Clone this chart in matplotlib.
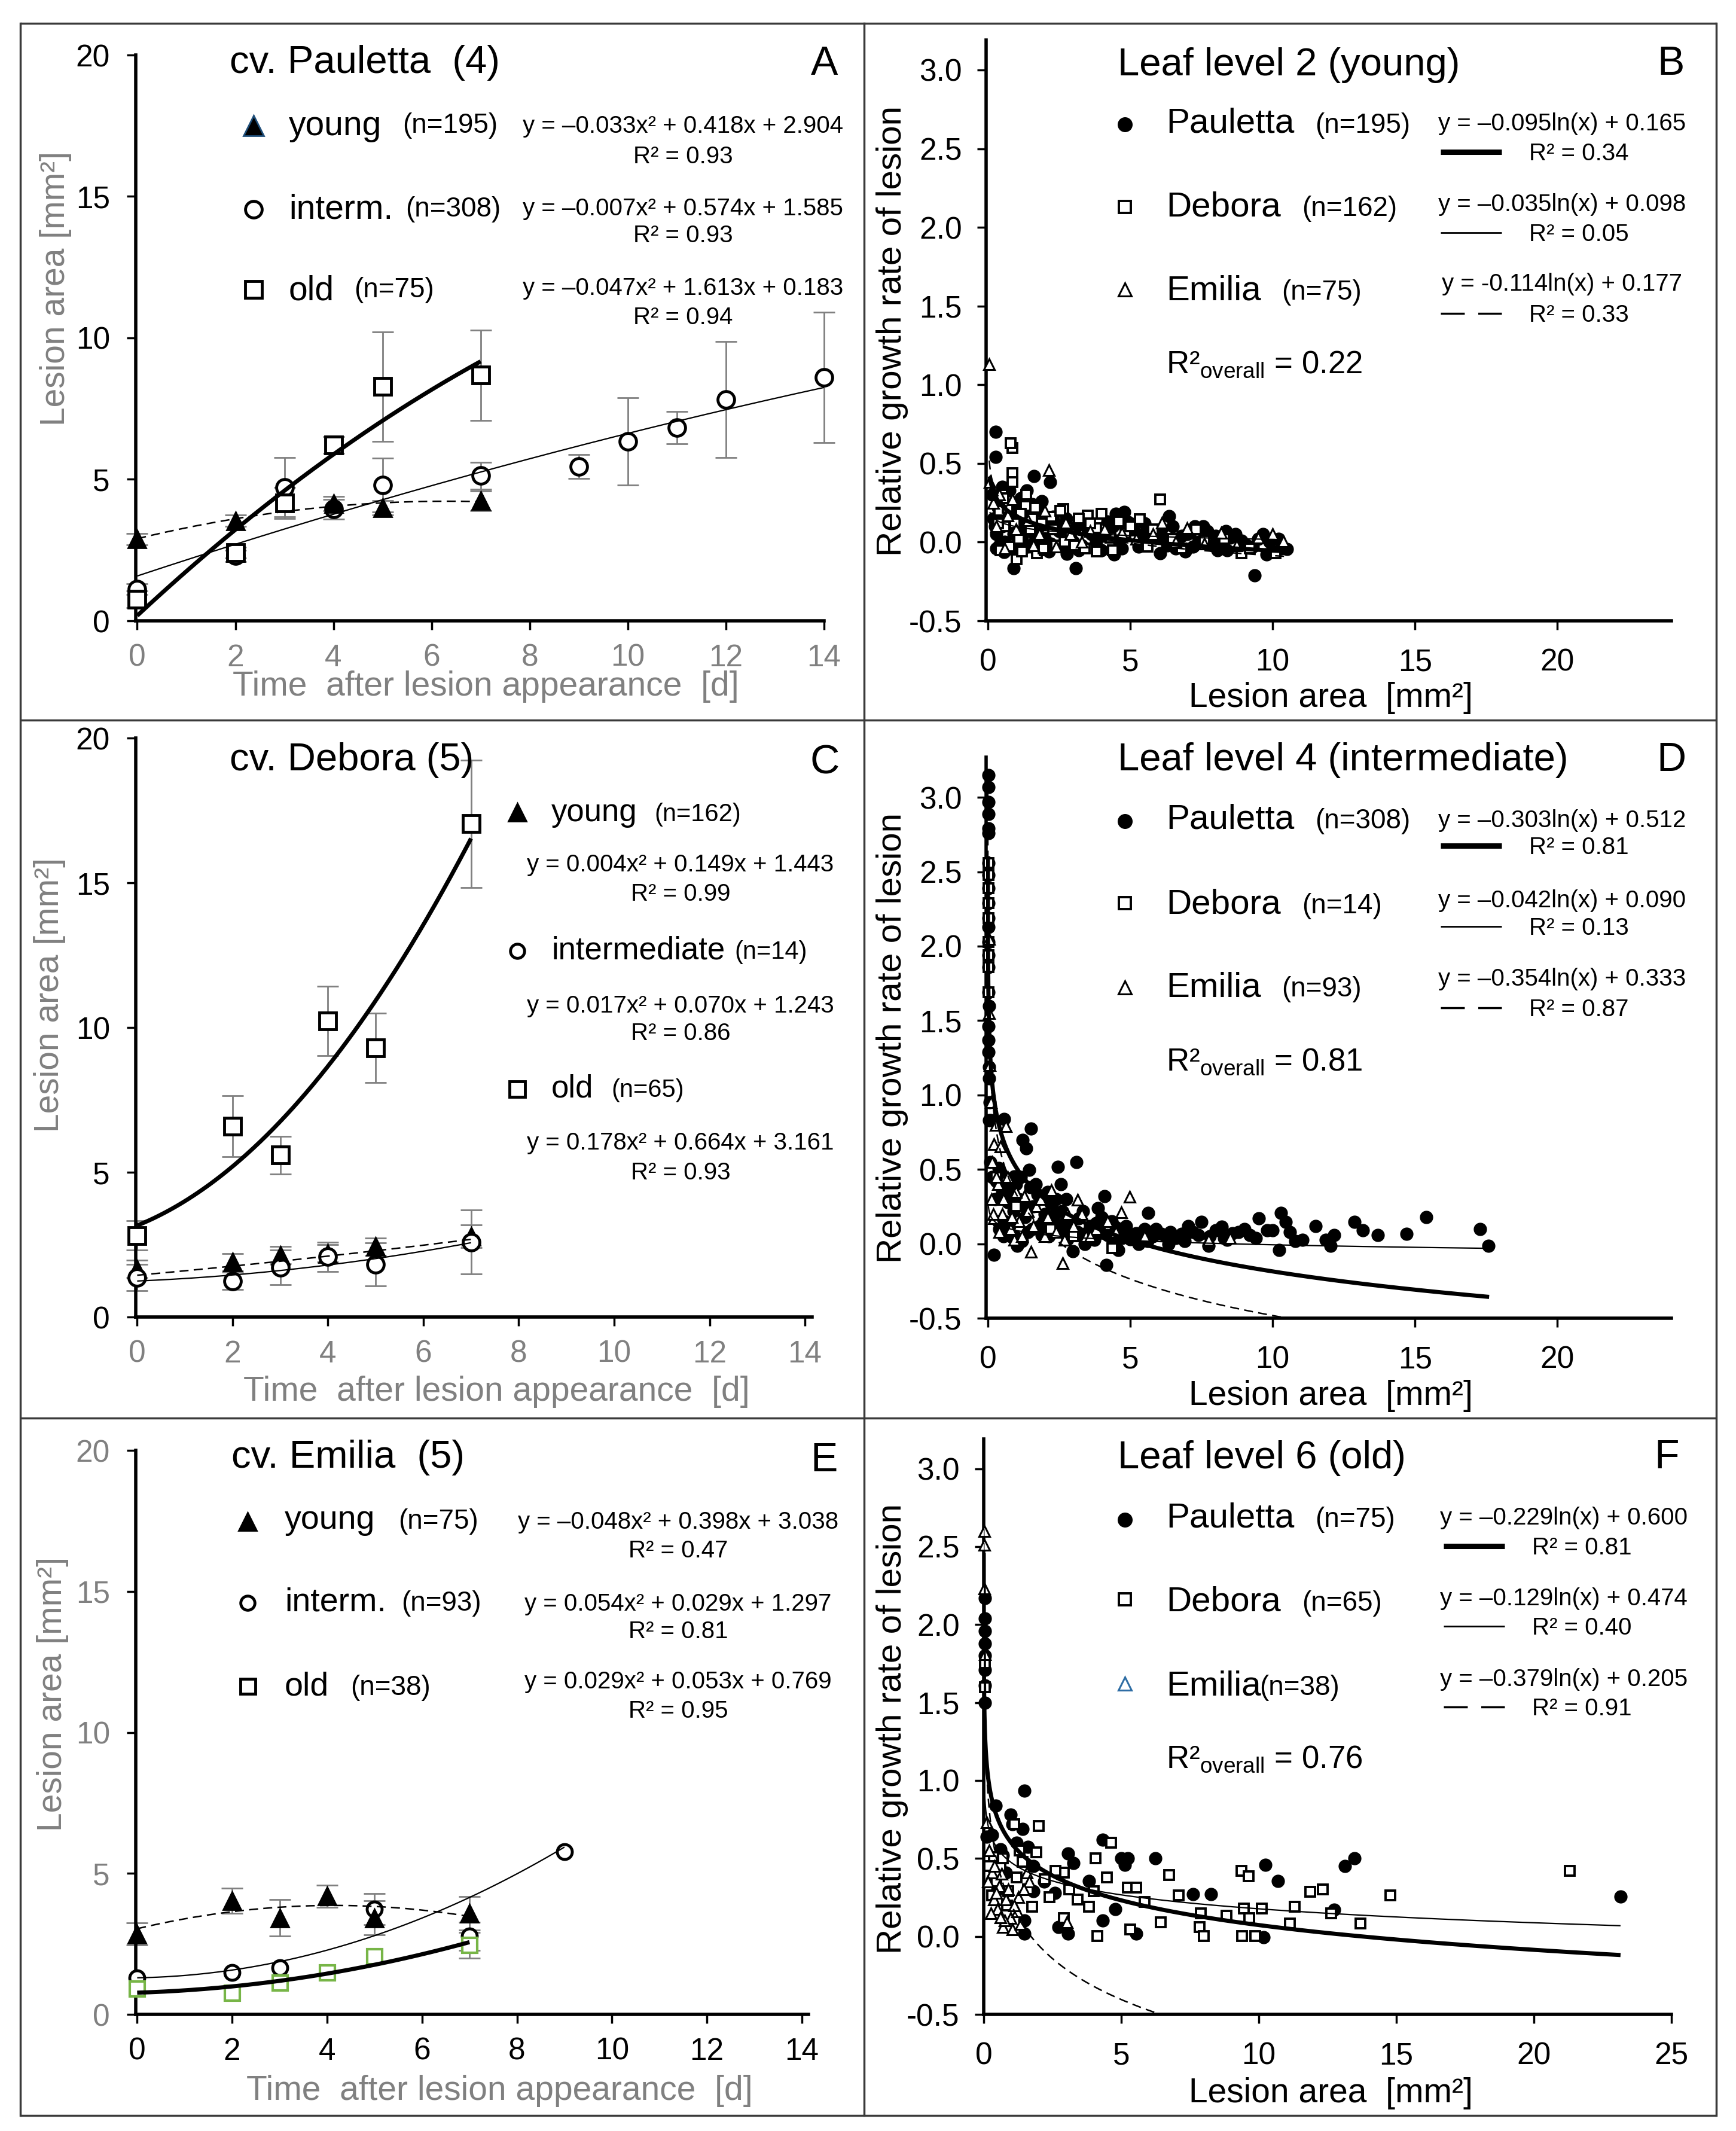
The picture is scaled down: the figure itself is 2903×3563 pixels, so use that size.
import numpy as np
import matplotlib
matplotlib.use('Agg')
import matplotlib.pyplot as plt
from matplotlib.lines import Line2D

plt.rcParams['font.family'] = ['Liberation Sans', 'DejaVu Sans']
plt.rcParams['axes.unicode_minus'] = False
plt.rcParams['mathtext.fontset'] = 'custom'
plt.rcParams['mathtext.rm'] = 'Liberation Sans'
plt.rcParams['mathtext.it'] = 'Liberation Sans'
plt.rcParams['mathtext.default'] = 'regular'

# ---------------- data: time courses (lesion area, mm²) ----------------
days_ticks = [0, 2, 4, 6, 8, 10, 12, 14]
area_ticks = [0, 5, 10, 15, 20]

# Panel A  cv. Pauletta
A_young_x = [0, 2, 4, 5, 7]
A_young_y = [2.89, 3.54, 4.15, 3.99, 4.24]
A_young_e = [0.2, 0.2, 0.25, 0.25, 0.35]
A_int_x = [0, 2, 3, 4, 5, 7, 9, 10, 11, 12, 14]
A_int_y = [1.12, 2.30, 4.72, 3.95, 4.80, 5.13, 5.45, 6.34, 6.82, 7.83, 8.60]
A_int_e = [0.2, 0.2, 1.05, 0.35, 0.95, 0.47, 0.42, 1.55, 0.57, 2.05, 2.30]
A_old_x = [0, 2, 3, 4, 5, 7]
A_old_y = [0.76, 2.41, 4.16, 6.21, 8.28, 8.68]
A_old_e = [0.3, 0.2, 0.55, 0.3, 1.94, 1.60]
A_fit_young = [-0.033, 0.418, 2.904]
A_fit_int = [-0.007, 0.574, 1.585]
A_fit_old = [-0.047, 1.613, 0.183]

# Panel C  cv. Debora
C_young_x = [0, 2, 3, 4, 5, 7]
C_young_y = [1.66, 1.90, 2.13, 2.20, 2.43, 2.79]
C_young_e = [0.3, 0.3, 0.3, 0.3, 0.3, 0.4]
C_int_x = [0, 2, 3, 4, 5, 7]
C_int_y = [1.36, 1.25, 1.71, 2.08, 1.82, 2.59]
C_int_e = [0.45, 0.3, 0.6, 0.5, 0.75, 1.1]
C_old_x = [0, 2, 3, 4, 5, 7]
C_old_y = [2.82, 6.59, 5.59, 10.22, 9.29, 17.04]
C_old_e = [0.5, 1.05, 0.65, 1.2, 1.2, 2.2]
C_fit_young = [0.004, 0.149, 1.443]
C_fit_int = [0.017, 0.070, 1.243]
C_fit_old = [0.178, 0.664, 3.161]

# Panel E  cv. Emilia
E_young_x = [0, 2, 3, 4, 5, 7]
E_young_y = [2.85, 4.03, 3.42, 4.19, 3.42, 3.58]
E_young_e = [0.4, 0.45, 0.65, 0.4, 0.6, 0.6]
E_int_x = [0, 2, 3, 5, 7, 9]
E_int_y = [1.29, 1.48, 1.65, 3.74, 2.77, 5.76]
E_int_e = [0, 0, 0, 0.55, 0.5, 0]
E_old_x = [0, 2, 3, 4, 5, 7]
E_old_y = [0.92, 0.76, 1.13, 1.48, 2.05, 2.45]
E_old_e = [0, 0, 0, 0, 0, 0.45]
E_fit_young = [-0.048, 0.398, 3.038]
E_fit_int = [0.054, 0.029, 1.297]
E_fit_old = [0.029, 0.053, 0.769]

# ---------------- data: relative growth rate vs lesion area ----------------
rgr_ticks = [-0.5, 0.0, 0.5, 1.0, 1.5, 2.0, 2.5, 3.0]

B_pauletta = [(0.27, 0.70), (0.27, 0.54), (1.62, 0.42), (2.18, 0.38), (1.36, 0.33), (0.91, -0.165),
              (3.08, -0.165), (9.37, -0.21), (4.50, 0.18), (4.80, 0.19), (6.37, 0.165), (7.27, 0.10),
              (7.57, 0.10), (8.36, 0.07), (9.67, 0.05), (10.50, -0.045), (9.78, -0.08), (8.06, -0.05),
              (6.93, -0.06), (6.04, -0.07), (4.43, -0.08), (2.78, -0.076), (0.57, -0.063), (1.10, -0.025),
              (3.64, 0.05), (5.44, 0.05), (2.00, 0.025), (0.20, 0.15), (0.30, 0.05), (0.40, -0.02),
              (0.50, 0.10), (0.60, 0.00), (0.70, 0.12), (0.80, -0.04), (1.00, 0.08), (1.20, 0.02),
              (1.40, -0.03), (1.60, 0.06), (1.80, 0.10), (2.20, -0.01), (2.50, 0.07), (2.90, 0.03),
              (3.30, -0.02), (3.70, 0.09), (4.10, 0.04), (4.60, 0.01), (5.00, 0.12), (5.30, -0.03),
              (5.70, 0.06), (6.20, 0.02), (6.60, -0.04), (7.00, 0.05), (7.40, 0.00), (7.90, -0.02),
              (8.50, 0.03), (8.90, 0.01), (9.30, -0.03), (9.90, 0.00), (10.30, -0.04), (0.35, 0.22),
              (0.55, 0.18), (0.90, 0.05), (1.30, 0.14), (1.70, -0.05), (2.40, 0.11), (3.00, 0.00),
              (3.50, 0.08), (4.00, -0.05), (4.90, 0.13), (5.60, 0.02), (6.30, -0.02), (7.10, 0.06),
              (8.20, -0.03), (0.15, 0.30), (0.25, 0.10), (0.45, 0.25), (0.65, 0.20), (0.85, 0.15),
              (1.05, 0.22), (1.25, 0.10), (1.45, 0.17), (1.65, 0.00), (1.85, 0.20), (2.05, 0.12),
              (2.30, 0.16), (2.60, -0.03), (2.75, 0.15), (3.10, 0.10), (3.40, 0.12), (3.80, 0.00),
              (4.20, 0.13), (4.40, 0.10), (4.70, -0.04), (5.10, 0.08), (5.50, 0.12), (5.90, 0.03),
              (6.10, 0.08), (6.50, 0.10), (6.80, 0.04), (7.20, -0.03), (7.70, 0.07), (8.00, 0.04),
              (8.40, -0.05), (8.70, 0.05), (9.10, -0.02), (9.50, 0.02), (10.00, -0.06), (10.20, 0.02),
              (0.75, 0.33), (1.15, 0.28), (1.55, 0.24), (0.95, -0.05), (2.15, -0.06), (3.20, -0.05),
              (0.30, -0.04), (0.50, 0.35), (1.90, 0.26), (2.65, 0.10)]
B_debora = [(0.87, 0.60), (0.81, 0.63), (0.87, 0.44), (0.87, 0.38), (6.04, 0.27), (5.33, 0.145),
            (3.50, 0.17), (2.64, 0.21), (1.66, 0.22), (0.50, 0.30), (2.22, 0.16), (3.83, -0.06),
            (1.73, -0.07), (1.02, -0.11), (4.84, 0.06), (1.32, 0.23), (8.90, -0.07), (10.10, -0.07),
            (0.40, 0.20), (0.60, 0.10), (0.75, -0.03), (1.15, 0.18), (1.50, 0.08), (1.90, 0.12),
            (2.40, -0.02), (2.90, 0.05), (3.20, 0.15), (3.80, 0.09), (4.30, 0.03), (4.60, 0.13),
            (5.60, -0.03), (6.50, 0.02), (7.30, 0.08), (0.45, -0.05), (1.20, -0.06), (2.00, -0.05),
            (2.70, 0.00), (3.40, -0.04), (0.35, 0.12), (0.55, 0.28), (0.70, 0.22), (0.95, 0.12),
            (1.10, 0.02), (1.35, 0.30), (1.55, 0.15), (1.95, -0.04), (2.30, 0.08), (2.55, 0.20),
            (3.05, -0.02), (3.60, 0.12), (4.00, 0.18), (4.40, -0.05), (5.00, 0.10), (5.80, 0.08),
            (6.80, -0.04), (7.60, 0.01), (8.30, 0.02), (9.20, -0.04)]
B_emilia = [(0.05, 1.13), (2.14, 0.457), (0.07, 0.38), (6.11, 0.125), (8.20, 0.06), (10.00, 0.05),
            (10.38, 0.005), (8.73, -0.02), (2.74, 0.125), (0.87, 0.27), (0.30, 0.10), (0.60, -0.04),
            (1.40, 0.14), (1.80, 0.05), (3.30, 0.00), (4.10, 0.08), (5.20, 0.02), (7.00, 0.09),
            (9.50, 0.03), (0.20, 0.25), (2.40, -0.03), (4.70, 0.06), (0.40, 0.30), (0.70, 0.17),
            (1.00, 0.08), (1.60, -0.02), (2.00, 0.20), (2.90, 0.05), (3.60, 0.07), (5.80, 0.05),
            (6.60, 0.00), (7.60, -0.01)]

D_pauletta = [(0.02, 3.15), (0.02, 3.07), (0.02, 2.97), (0.02, 2.89), (0.02, 2.79), (0.02, 2.76),
              (0.02, 2.56), (0.02, 2.48), (0.02, 2.39), (0.02, 2.29), (0.02, 2.19), (0.02, 2.13),
              (0.02, 2.03), (0.02, 1.94), (0.02, 1.86), (0.02, 1.69), (0.04, 1.60), (0.03, 1.46),
              (0.03, 1.37), (0.03, 1.29), (0.04, 1.19), (0.05, 1.11), (0.06, 0.95), (0.05, 0.83),
              (1.51, 0.776), (1.22, 0.696), (1.34, 0.64), (0.57, 0.84), (0.10, 0.83), (3.10, 0.548),
              (2.46, 0.515), (1.45, 0.495), (4.10, 0.32), (5.63, 0.206), (0.22, -0.075), (4.16, -0.142),
              (2.98, -0.048), (9.51, 0.173), (10.28, 0.206), (11.50, 0.12), (11.04, 0.025),
              (12.04, -0.015), (12.16, 0.06), (12.87, 0.146), (13.16, 0.092), (13.69, 0.059),
              (14.69, 0.066), (15.40, 0.18), (17.28, 0.099), (17.57, -0.015), (10.22, -0.04),
              (7.50, 0.146), (7.04, 0.12), (8.22, 0.113), (8.80, 0.08), (8.40, 0.025), (7.75, -0.015),
              (6.10, 0.066), (5.40, 0.04), (5.04, 0.05), (4.57, -0.04), (3.75, 0.025), (3.87, 0.24),
              (2.57, 0.40), (2.10, 0.347), (1.69, 0.40), (0.92, 0.454), (0.39, 0.508), (0.08, 0.548),
              (1.04, -0.015), (6.34, 0.0), (9.99, 0.09), (10.45, 0.146), (11.86, 0.025), (6.80, 0.066),
              (0.30, 0.42), (0.50, 0.35), (0.70, 0.28), (0.90, 0.22), (1.10, 0.30), (1.30, 0.18),
              (1.60, 0.25), (1.80, 0.12), (2.00, 0.20), (2.30, 0.15), (2.60, 0.22), (2.90, 0.10),
              (3.20, 0.17), (3.50, 0.08), (3.80, 0.14), (4.20, 0.06), (4.50, 0.11), (4.80, 0.09),
              (5.20, 0.07), (5.50, 0.10), (5.80, 0.05), (6.20, 0.06), (6.60, 0.04), (7.20, 0.08),
              (7.80, 0.05), (8.60, 0.07), (9.20, 0.06), (9.80, 0.09), (0.40, 0.10), (0.80, 0.05),
              (1.20, 0.02), (1.50, 0.38), (1.90, 0.06), (2.40, 0.30), (2.80, 0.03), (3.30, 0.05),
              (3.60, 0.12), (4.40, 0.02), (5.00, 0.03), (5.60, 0.02), (0.60, 0.15), (1.00, 0.40),
              (1.40, 0.08), (2.20, 0.27), (2.70, 0.14), (3.40, 0.00), (4.00, 0.18), (4.70, 0.04),
              (0.15, 0.45), (0.25, 0.30), (0.35, 0.15), (0.45, 0.48), (0.55, 0.05), (0.65, 0.38),
              (0.75, 0.12), (0.85, 0.33), (0.95, 0.05), (1.15, 0.45), (1.35, 0.25), (1.55, 0.10),
              (1.75, 0.33), (1.95, 0.15), (2.15, 0.05), (2.35, 0.20), (2.55, 0.10), (2.75, 0.30),
              (2.95, 0.15), (3.15, 0.08), (3.35, 0.22), (3.55, 0.03), (3.95, 0.08), (4.35, 0.15),
              (4.85, 0.12), (5.30, 0.00), (5.90, 0.10), (6.40, 0.08), (6.90, 0.02), (7.40, 0.06),
              (8.00, 0.09), (8.30, 0.04), (9.00, 0.10), (9.40, 0.04), (10.60, 0.08), (10.80, 0.02)]
D_debora = [(0.02, 2.56), (0.02, 2.48), (0.02, 2.39), (0.02, 2.29), (0.02, 2.19), (0.02, 2.03),
            (0.02, 1.94), (0.02, 1.86), (0.03, 1.69), (0.30, 0.45), (1.00, 0.25), (2.20, 0.10),
            (3.00, 0.05), (4.37, -0.03)]
D_emilia = [(0.22, 0.669), (0.45, 0.655), (0.63, 0.79), (2.22, 0.36), (3.16, 0.294), (4.98, 0.314),
            (1.51, -0.055), (2.63, -0.129), (1.28, 0.32), (0.22, 0.173), (3.45, 0.052), (4.69, 0.213),
            (7.75, 0.025), (8.50, 0.04), (2.69, 0.025), (0.92, 0.025), (0.27, 0.80), (0.05, 2.05),
            (0.04, 1.55), (0.06, 1.20), (0.10, 0.95), (0.35, 0.40), (0.50, 0.20), (0.80, 0.10),
            (1.10, 0.15), (1.70, 0.25), (2.00, 0.05), (3.80, 0.10), (0.15, 0.55), (0.30, 0.45),
            (0.12, 0.30), (0.20, 0.20), (0.40, 0.08), (0.55, 0.30), (0.70, 0.45), (0.85, 0.18),
            (1.00, 0.35), (1.20, 0.05), (1.40, 0.22), (1.60, 0.12), (1.85, 0.30), (2.10, 0.18),
            (2.40, 0.08), (2.80, 0.20), (3.00, 0.12), (3.30, 0.20), (3.60, 0.05), (4.20, 0.15),
            (4.50, 0.08), (5.50, 0.05)]

F_pauletta = [(0.05, 2.17), (0.05, 2.04), (0.05, 1.96), (0.05, 1.88), (0.05, 1.80), (0.05, 1.71),
              (0.05, 1.61), (0.05, 1.50), (1.47, 0.935), (0.44, 0.84), (0.97, 0.78), (1.05, 0.72),
              (0.10, 0.64), (1.41, 0.69), (3.06, 0.53), (3.26, 0.47), (4.33, 0.62), (4.99, 0.50),
              (5.23, 0.50), (5.13, 0.46), (6.24, 0.50), (10.23, 0.46), (10.70, 0.355), (13.12, 0.45),
              (13.48, 0.50), (23.15, 0.255), (7.61, 0.27), (8.25, 0.27), (12.74, 0.17), (2.58, 0.28),
              (2.72, 0.06), (3.06, 0.016), (4.33, 0.104), (4.79, 0.177), (5.54, 0.016), (10.17, -0.004),
              (1.47, 0.016), (1.47, 0.104), (3.82, 0.355), (1.61, 0.575), (0.60, 0.56), (1.81, 0.29),
              (0.80, 0.41), (0.30, 0.65), (0.70, 0.52), (1.20, 0.60), (1.80, 0.45), (2.20, 0.35),
              (0.50, 0.30)]
F_debora = [(2.01, 0.71), (1.11, 0.72), (0.36, 0.51), (1.91, 0.54), (1.41, 0.48), (2.92, 0.41),
            (4.07, 0.50), (4.63, 0.60), (4.47, 0.38), (6.74, 0.395), (9.36, 0.42), (9.63, 0.386),
            (3.99, 0.29), (5.23, 0.315), (5.54, 0.315), (7.09, 0.264), (11.88, 0.288), (12.32, 0.30),
            (14.79, 0.264), (21.30, 0.42), (11.31, 0.19), (12.64, 0.148), (13.69, 0.083), (11.13, 0.083),
            (9.46, 0.18), (10.10, 0.18), (9.66, 0.118), (8.82, 0.133), (7.89, 0.148), (7.85, 0.06),
            (8.01, 0.002), (9.40, 0.002), (9.86, 0.002), (4.13, 0.002), (5.33, 0.045), (6.44, 0.09),
            (5.84, 0.22), (3.82, 0.19), (3.42, 0.235), (2.92, 0.118), (2.21, 0.366), (1.77, 0.19),
            (0.60, 0.45), (0.30, 0.264), (0.90, 0.29), (0.05, 1.75), (0.05, 1.60), (0.20, 0.45),
            (0.45, 0.35), (0.70, 0.50), (0.85, 0.20), (1.20, 0.38), (1.30, 0.55), (1.60, 0.30),
            (2.40, 0.25), (2.60, 0.42), (3.10, 0.30)]
F_emilia = [(0.02, 2.60), (0.02, 2.51), (0.03, 2.23), (0.04, 1.81), (0.36, 0.235), (0.50, 0.177),
            (0.70, 0.06), (0.97, 0.118), (1.25, 0.25), (1.57, 0.41), (1.65, 0.35), (1.05, 0.045),
            (0.30, 0.41), (0.10, 0.73), (0.56, 0.32), (0.80, 0.235), (3.02, 0.09), (1.21, 0.16),
            (0.76, 0.104), (0.20, 0.55), (0.15, 0.35), (0.45, 0.28), (0.25, 0.15), (0.40, 0.45),
            (0.60, 0.12), (0.90, 0.30), (1.10, 0.20), (1.35, 0.08), (1.45, 0.30), (0.65, 0.40)]

# log fits y = a ln(x) + b  and the x-range each trendline covers
B_fits = {'P': (-0.095, 0.165), 'D': (-0.035, 0.098), 'E': (-0.114, 0.177)}
B_rng = {'P': (0.07, 10.5), 'D': (0.07, 10.1), 'E': (0.05, 10.4)}
D_fits = {'P': (-0.303, 0.512), 'D': (-0.042, 0.090), 'E': (-0.354, 0.333)}
D_rng = {'P': (0.001, 17.6), 'D': (0.02, 17.6), 'E': (0.0005, 10.5)}
F_fits = {'P': (-0.229, 0.600), 'D': (-0.129, 0.474), 'E': (-0.379, 0.205)}
F_rng = {'P': (0.0003, 23.15), 'D': (0.01, 23.15), 'E': (0.0002, 6.6)}

# ---------------- figure ----------------
W, H = 2903, 3563
GRAY = '#808080'
GREEN = '#77b547'
BLUE = '#2e6da4'
NAVY = '#1f4e79'

fig = plt.figure(figsize=(W / 100, H / 100), dpi=100)


def fx(x):
    return x / W


def fy(y):
    return 1 - y / H


def add_ax(x0, y0, x1, y1):
    return fig.add_axes([fx(x0), fy(y1), (x1 - x0) / W, (y1 - y0) / H])


def txt(x, y, s, size, ha='left', va='baseline', color='black', **kw):
    fig.text(fx(x), fy(y), s, fontsize=size, ha=ha, va=va, color=color, **kw)


def mark(x, y, marker, ms, mfc, mec, mew):
    fig.add_artist(Line2D([fx(x)], [fy(y)], marker=marker, ms=ms, mfc=mfc, mec=mec, mew=mew,
                          linestyle='none', transform=fig.transFigure))


def seg(x0, x1, y, lw, ls='-', color='black'):
    fig.add_artist(Line2D([fx(x0), fx(x1)], [fy(y), fy(y)], lw=lw, ls=ls, color=color,
                          transform=fig.transFigure, solid_capstyle='butt', dash_capstyle='butt'))


# panel frame
BC = '#3a3a3a'
seg(34, 2870, 39, 2.5, color=BC)
seg(34, 2870, 3537, 2.5, color=BC)
seg(34, 2870, 1204, 2.5, color=BC)
seg(34, 2870, 2371, 2.5, color=BC)
for xv in (34, 1445, 2870):
    fig.add_artist(Line2D([fx(xv), fx(xv)], [fy(39), fy(3537)], lw=2.5, color=BC, transform=fig.transFigure))


def style(ax, xcol, ycol, xpad=16, ypad=20):
    for s in ['top', 'right']:
        ax.spines[s].set_visible(False)
    for s in ['left', 'bottom']:
        ax.spines[s].set_linewidth(4)
        ax.spines[s].set_color('black')
    ax.tick_params(direction='out', length=11, width=2.5, labelsize=37, color='black')
    ax.tick_params(axis='x', labelcolor=xcol, pad=xpad)
    ax.tick_params(axis='y', labelcolor=ycol, pad=ypad)
    ax.patch.set_visible(False)


def tc(ax, x, y, err, marker, ms, mfc, mec, mew, z):
    x = np.array(x, float)
    y = np.array(y, float)
    e = np.array(err, float)
    m = e > 0
    if m.any():
        ax.errorbar(x[m], y[m], yerr=e[m], fmt='none', ecolor=GRAY, elinewidth=2, capsize=13,
                    capthick=2, zorder=2, clip_on=False)
    ax.plot(x, y, linestyle='none', marker=marker, ms=ms, mfc=mfc, mec=mec, mew=mew, zorder=z, clip_on=False)


def quad(ax, c, x0, x1, lw, ls='-'):
    xs = np.linspace(x0, x1, 300)
    ax.plot(xs, c[0] * xs ** 2 + c[1] * xs + c[2], color='black', lw=lw, ls=ls, zorder=6,
            solid_capstyle='butt')


DASH = (0, (6, 3.5))


def time_panel(box, xlim, xcol, ycol, series, fits, frng):
    ax = add_ax(*box)
    style(ax, xcol, ycol)
    ax.set_xlim(*xlim)
    ax.set_ylim(0, 20)
    ax.set_xticks(days_ticks)
    ax.set_yticks(area_ticks)
    for s in series:
        tc(ax, *s)
    quad(ax, fits[0], *frng[0], lw=1.8, ls=DASH)
    quad(ax, fits[1], *frng[1], lw=1.6)
    quad(ax, fits[2], *frng[2], lw=5)
    return ax


# ---- Panel A
time_panel((227, 92, 1378, 1038), (-0.03, 14), GRAY, 'black',
           [(A_young_x, A_young_y, A_young_e, '^', 21, 'black', 'black', 2, 4),
            (A_int_x, A_int_y, A_int_e, 'o', 20, 'white', 'black', 3.5, 3),
            (A_old_x, A_old_y, A_old_e, 's', 20, 'white', 'black', 3.5, 5)],
           [A_fit_young, A_fit_int, A_fit_old], [(0, 7), (0, 14), (0, 7)])
# ---- Panel C
time_panel((227, 1234, 1358, 2202), (-0.03, 14.15), GRAY, 'black',
           [(C_young_x, C_young_y, C_young_e, '^', 21, 'black', 'black', 2, 3),
            (C_int_x, C_int_y, C_int_e, 'o', 20, 'white', 'black', 3.5, 4),
            (C_old_x, C_old_y, C_old_e, 's', 20, 'white', 'black', 3.5, 5)],
           [C_fit_young, C_fit_int, C_fit_old], [(0, 7), (0, 7), (0, 7)])
# ---- Panel E
time_panel((227, 2425, 1352, 3368), (-0.03, 14.14), 'black', GRAY,
           [(E_young_x, E_young_y, E_young_e, '^', 21, 'black', 'black', 2, 4),
            (E_int_x, E_int_y, E_int_e, 'o', 18, 'white', 'black', 3.5, 3),
            (E_old_x, E_old_y, E_old_e, 's', 18, 'white', GREEN, 3, 5)],
           [E_fit_young, E_fit_int, E_fit_old], [(0, 7), (0, 9), (0, 7)])


def scatter_panel(box, xlim, ylim, xticks, P, Dd, Ee, fits, rng, ms_c):
    ax = add_ax(*box)
    style(ax, 'black', 'black', xpad=22, ypad=18)
    ax.set_xlim(*xlim)
    ax.set_ylim(*ylim)
    ax.set_xticks(xticks)
    ax.set_yticks(rgr_ticks)
    ax.set_yticklabels(['%.1f' % v for v in rgr_ticks])
    px, py = zip(*P)
    ax.plot(px, py, 'o', ms=ms_c, mfc='black', mec='black', mew=1, zorder=3, clip_on=False)
    dx, dy = zip(*Dd)
    ax.plot(dx, dy, 's', ms=ms_c - 3, mfc='white', mec='black', mew=2.8, zorder=4, clip_on=False)
    ex, ey = zip(*Ee)
    ax.plot(ex, ey, '^', ms=ms_c - 2, mfc='white', mec='black', mew=2.2, zorder=5, clip_on=False)
    styles = {'P': dict(lw=5), 'D': dict(lw=1.6), 'E': dict(lw=1.8, ls=DASH)}
    for k in ['P', 'D', 'E']:
        a, b = fits[k]
        xs = np.geomspace(rng[k][0], rng[k][1], 800)
        ax.plot(xs, a * np.log(xs) + b, color='black', zorder=6, solid_capstyle='butt', **styles[k])
    return ax


scatter_panel((1649, 67, 2795, 1038), (-0.06, 24), (-0.5, 3.19), [0, 5, 10, 15, 20],
              B_pauletta, B_debora, B_emilia, B_fits, B_rng, 15)
scatter_panel((1649, 1266, 2795, 2204), (-0.06, 24), (-0.5, 3.27), [0, 5, 10, 15, 20],
              D_pauletta, D_debora, D_emilia, D_fits, D_rng, 15)
scatter_panel((1645, 2406, 2795, 3368), (0, 25), (-0.5, 3.19), [0, 5, 10, 15, 20, 25],
              F_pauletta, F_debora, F_emilia, F_fits, F_rng, 15)

# ---------------- axis labels ----------------
AXF = 41
txt(812, 1148, 'Time  after lesion appearance  [d]', AXF, ha='center', va='center', color=GRAY)
txt(93, 482, 'Lesion area [mm²]', AXF, ha='center', va='center', color=GRAY, rotation=90)
txt(830, 2327, 'Time  after lesion appearance  [d]', AXF, ha='center', va='center', color=GRAY)
txt(83, 1663, 'Lesion area [mm²]', AXF, ha='center', va='center', color=GRAY, rotation=90)
txt(835, 3496, 'Time  after lesion appearance  [d]', AXF, ha='center', va='center', color=GRAY)
txt(88, 2832, 'Lesion area [mm²]', AXF, ha='center', va='center', color=GRAY, rotation=90)
for (xl, yl, ylab_y) in [(1167, 1492, 553), (2334, 1492, 1735), (3500, 1492, 2890)]:
    txt(2225, xl, 'Lesion area  [mm²]', AXF, ha='center', va='center')
    txt(yl, ylab_y, 'Relative growth rate of lesion', 42, ha='center', va='center', rotation=90)

# ---------------- titles and panel letters ----------------
TF = 47
txt(384, 122, 'cv. Pauletta  (4)', TF)
txt(384, 1288, 'cv. Debora (5)', TF)
txt(387, 2454, 'cv. Emilia  (5)', TF)
txt(1869, 126, 'Leaf level 2 (young)', TF)
txt(1869, 1288, 'Leaf level 4 (intermediate)', TF)
txt(1869, 2455, 'Leaf level 6 (old)', TF)
LF = 49
txt(1401, 125, 'A', LF, ha='right')
txt(2817, 125, 'B', LF, ha='right')
txt(1404, 1293, 'C', LF, ha='right')
txt(2820, 1289, 'D', LF, ha='right')
txt(1401, 2460, 'E', LF, ha='right')
txt(2808, 2455, 'F', LF, ha='right')

EQF = 29
NF = 33
# ---- legend A
mark(424, 210, '^', 24, 'black', NAVY, 2)
txt(483, 226, 'young', 41)
txt(673, 222, '(n=195)', NF)
txt(1142, 222, 'y = –0.033x² + 0.418x + 2.904', EQF, ha='center')
txt(1142, 273, 'R² = 0.93', EQF, ha='center')
mark(424, 350, 'o', 20, 'white', 'black', 3.5)
txt(483, 366, 'interm.', 41)
txt(678, 362, '(n=308)', NF)
txt(1142, 360, 'y = –0.007x² + 0.574x + 1.585', EQF, ha='center')
txt(1142, 405, 'R² = 0.93', EQF, ha='center')
mark(424, 484, 's', 20, 'white', 'black', 3.5)
txt(483, 501, 'old', 41)
txt(592, 497, '(n=75)', NF)
txt(1142, 493, 'y = –0.047x² + 1.613x + 0.183', EQF, ha='center')
txt(1142, 542, 'R² = 0.94', EQF, ha='center')

# ---- legend C
mark(865, 1358, '^', 22, 'black', 'black', 2)
txt(922, 1373, 'young', 38)
txt(1094, 1373, '(n=162)', 30)
txt(1138, 1457, 'y = 0.004x² + 0.149x + 1.443', EQF, ha='center')
txt(1138, 1506, 'R² = 0.99', EQF, ha='center')
mark(865, 1590, 'o', 17, 'white', 'black', 3.5)
txt(922, 1603, 'intermediate', 38)
txt(1228, 1603, '(n=14)', 30)
txt(1138, 1693, 'y = 0.017x² + 0.070x + 1.243', EQF, ha='center')
txt(1138, 1739, 'R² = 0.86', EQF, ha='center')
mark(865, 1821, 's', 19, 'white', 'black', 3.5)
txt(922, 1834, 'old', 38)
txt(1022, 1834, '(n=65)', 30)
txt(1138, 1922, 'y = 0.178x² + 0.664x + 3.161', EQF, ha='center')
txt(1138, 1972, 'R² = 0.93', EQF, ha='center')

# ---- legend E
mark(414, 2544, '^', 22, 'black', 'black', 2)
txt(476, 2556, 'young', 40)
txt(666, 2556, '(n=75)', NF)
txt(1134, 2556, 'y = –0.048x² + 0.398x + 3.038', EQF, ha='center')
txt(1134, 2604, 'R² = 0.47', EQF, ha='center')
mark(414, 2680, 'o', 17, 'white', 'black', 3.5)
txt(476, 2693, 'interm.', 40)
txt(671, 2693, '(n=93)', NF)
txt(1134, 2693, 'y = 0.054x² + 0.029x + 1.297', EQF, ha='center')
txt(1134, 2739, 'R² = 0.81', EQF, ha='center')
mark(414, 2819, 's', 18, 'white', 'black', 3.5)
txt(476, 2834, 'old', 40)
txt(586, 2834, '(n=38)', NF)
txt(1134, 2823, 'y = 0.029x² + 0.053x + 0.769', EQF, ha='center')
txt(1134, 2872, 'R² = 0.95', EQF, ha='center')


# ---- legends B, D, F
def rgr_legend(rows, r2y, r2txt, eqx, linex):
    for (my, ty, name, nx, ntxt, ey, eq, ly, r2, kind, mstyle) in rows:
        mark(1881, my, *mstyle)
        txt(1950, ty, name, 42)
        txt(nx, ty, ntxt, NF)
        txt(eqx, ey, eq, EQF, ha='center')
        if kind == 'P':
            seg(linex, linex + 102, ly, 6.5)
        elif kind == 'D':
            seg(linex, linex + 102, ly, 2)
        else:
            seg(linex, linex + 102, ly, 2.5, ls=(0, (11.5, 6.5)))
        txt(linex + 148, ly + 14, r2, EQF)
    txt(1950, r2y, r2txt, 38)


MP = ('o', 17, 'black', 'black', 1)
MD = ('s', 14, 'white', 'black', 2.8)
ME = ('^', 16, 'white', 'black', 2.2)
MEb = ('^', 16, 'white', BLUE, 2.2)

rgr_legend([(208, 222, 'Pauletta', 2199, '(n=195)', 218, 'y = –0.095ln(x) + 0.165', 254, 'R² = 0.34', 'P', MP),
            (346, 361, 'Debora', 2177, '(n=162)', 353, 'y = –0.035ln(x) + 0.098', 389, 'R² = 0.05', 'D', MD),
            (484, 501, 'Emilia', 2143, '(n=75)', 486, 'y = -0.114ln(x) + 0.177', 524, 'R² = 0.33', 'E', ME)],
           624, 'R²$_{overall}$ = 0.22', 2612, 2409)
rgr_legend([(1373, 1385, 'Pauletta', 2199, '(n=308)', 1383, 'y = –0.303ln(x) + 0.512', 1414, 'R² = 0.81', 'P', MP),
            (1510, 1527, 'Debora', 2177, '(n=14)', 1517, 'y = –0.042ln(x) + 0.090', 1549, 'R² = 0.13', 'D', MD),
            (1651, 1666, 'Emilia', 2143, '(n=93)', 1648, 'y = –0.354ln(x) + 0.333', 1685, 'R² = 0.87', 'E', ME)],
           1790, 'R²$_{overall}$ = 0.81', 2612, 2409)
rgr_legend([(2541, 2553, 'Pauletta', 2199, '(n=75)', 2549, 'y = –0.229ln(x) + 0.600', 2585, 'R² = 0.81', 'P', MP),
            (2674, 2693, 'Debora', 2177, '(n=65)', 2684, 'y = –0.129ln(x) + 0.474', 2719, 'R² = 0.40', 'D', MD),
            (2815, 2834, 'Emilia', 2106, '(n=38)', 2819, 'y = –0.379ln(x) + 0.205', 2854, 'R² = 0.91', 'E', MEb)],
           2956, 'R²$_{overall}$ = 0.76', 2615, 2414)

fig.savefig('out.png', dpi=100, facecolor='white')
